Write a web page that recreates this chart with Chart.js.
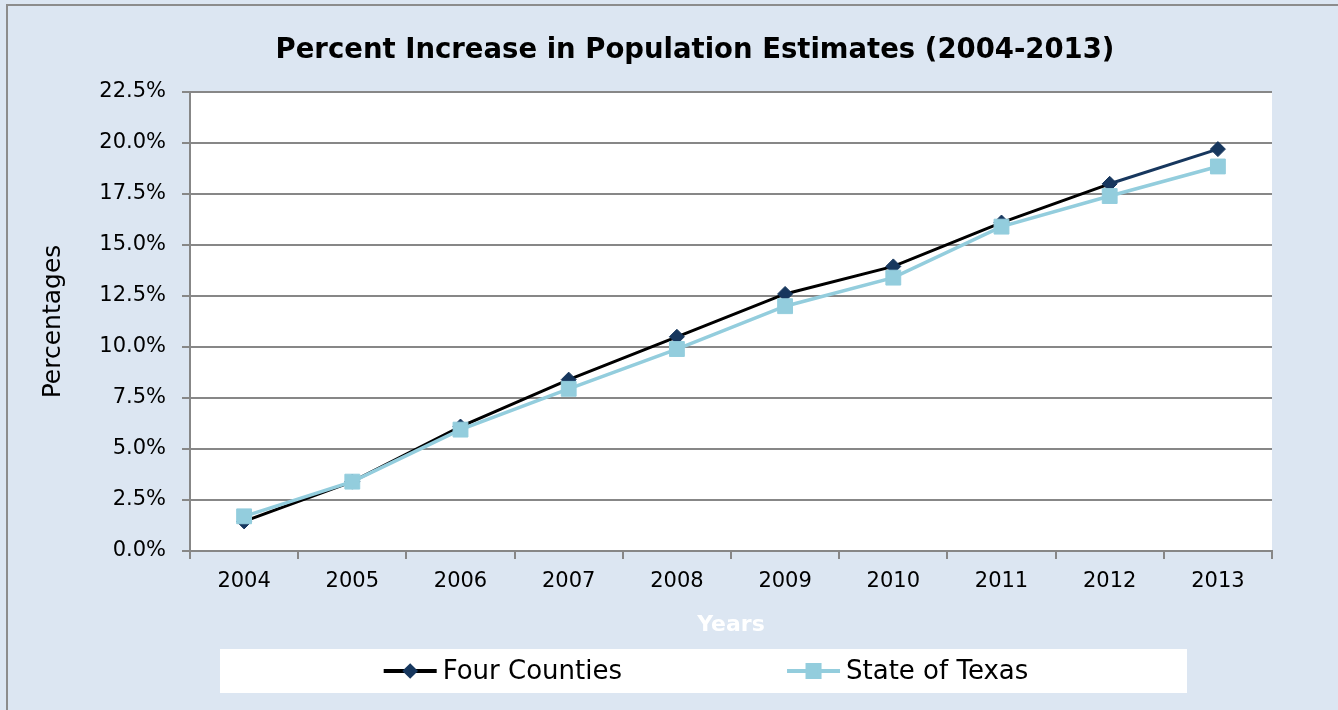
<!DOCTYPE html>
<html>
<head>
<meta charset="utf-8">
<script src="https://cdn.jsdelivr.net/npm/chart.js@4.4.0/dist/chart.umd.min.js"></script>
<style>
  html, body { margin: 0; padding: 0; background: #dce6f2; }
</style>
</head>
<body>
<canvas id="popChart" width="1338" height="710"></canvas>
<script>
const years = ["2004", "2005", "2006", "2007", "2008", "2009", "2010", "2011", "2012", "2013"]
const fourCounties = [1.45, 3.4, 6.1, 8.4, 10.5, 12.6, 13.95, 16.1, 18.0, 19.7]
const stateOfTexas = [1.7, 3.4, 5.95, 7.95, 9.9, 12.0, 13.4, 15.9, 17.4, 18.85]
const yMin = 0
const yMax = 22.5
const yStep = 2.5

const FONT = "'DejaVu Sans', Verdana, sans-serif"
const GRID = "#878787"
const NAVY = "#17375e"

// background, white plot area, title nudge and the boxed legend at the bottom
const frame = {
  id: "frame",
  afterLayout(chart) {
    const t = chart.titleBlock
    t.left += 59
    t.right += 59
  },
  beforeDraw(chart) {
    const { ctx, width, height, chartArea: a } = chart
    ctx.save()
    ctx.fillStyle = "#dce6f2"
    ctx.fillRect(0, 0, width, height)
    ctx.strokeStyle = "#8c8c8c"
    ctx.lineWidth = 2
    ctx.strokeRect(7, 5, width, height)
    ctx.fillStyle = "#ffffff"
    ctx.fillRect(a.left, a.top, a.right - a.left, a.bottom - a.top)
    ctx.restore()
  },
  afterDraw(chart) {
    const { ctx } = chart
    const top = chart.scales.x.bottom + 4
    const h = 44
    ctx.save()
    ctx.fillStyle = "#ffffff"
    ctx.fillRect(220, top, 967, h)
    ctx.font = "26px " + FONT
    ctx.textBaseline = "middle"
    const sets = chart.data.datasets
    const lineW = 53
    const gap = 6
    const itemGap = 165
    const widths = sets.map(d => lineW + gap + ctx.measureText(d.label).width)
    const total = widths.reduce((s, w) => s + w, 0) + itemGap * (sets.length - 1)
    let x = 706 - total / 2
    const cy = top + h / 2
    sets.forEach((d, i) => {
      ctx.strokeStyle = d.borderColor
      ctx.lineWidth = 4
      ctx.beginPath()
      ctx.moveTo(x, cy)
      ctx.lineTo(x + lineW, cy)
      ctx.stroke()
      ctx.fillStyle = d.pointBackgroundColor
      ctx.strokeStyle = d.pointBorderColor
      Chart.helpers.drawPoint(ctx, {
        pointStyle: d.pointStyle,
        radius: d.legendRadius,
        borderWidth: 1,
        rotation: 0
      }, x + lineW / 2, cy)
      ctx.fillStyle = "#000"
      ctx.fillText(d.label, x + lineW + gap, cy + 1)
      x += widths[i] + itemGap
    })
    ctx.restore()
  }
}

new Chart(document.getElementById("popChart"), {
  type: "line",
  data: {
    labels: years,
    datasets: [
      {
        label: "Four Counties",
        data: fourCounties,
        borderColor: "#000000",
        borderWidth: 3,
        segment: { borderColor: ctx => (ctx.p0DataIndex >= 8 ? NAVY : undefined) },
        pointStyle: "rectRot",
        pointRadius: 7.5,
        legendRadius: 5,
        pointBackgroundColor: NAVY,
        pointBorderColor: NAVY,
        pointBorderWidth: 1,
        order: 2
      },
      {
        label: "State of Texas",
        data: stateOfTexas,
        borderColor: "#93cddd",
        borderWidth: 3.5,
        pointStyle: "rect",
        pointRadius: 10.5,
        legendRadius: 8.5,
        pointBackgroundColor: "#93cddd",
        pointBorderColor: "#93cddd",
        pointBorderWidth: 1,
        order: 1
      }
    ]
  },
  options: {
    responsive: false,
    animation: false,
    layout: { padding: { left: 0, right: 66, top: 0, bottom: 65 } },
    scales: {
      x: {
        offset: true,
        border: { color: GRID, width: 2 },
        grid: { offset: true, drawOnChartArea: false, color: GRID, lineWidth: 2, tickLength: 8 },
        ticks: { color: "#000", padding: 10, maxRotation: 0, font: { family: FONT, size: 21 } },
        title: {
          display: true,
          text: "Years",
          color: "#ffffff",
          padding: { top: 8, bottom: 7 },
          font: { family: FONT, size: 22, weight: "bold" }
        },
        afterFit(scale) { scale.height = 94 }
      },
      y: {
        min: yMin,
        max: yMax,
        border: { color: GRID, width: 2 },
        grid: { color: GRID, lineWidth: 2, tickLength: 8 },
        ticks: {
          stepSize: yStep,
          color: "#000",
          padding: 16,
          font: { family: FONT, size: 21 },
          callback: v => v.toFixed(1) + "%"
        },
        title: {
          display: true,
          text: "Percentages",
          color: "#000",
          padding: { top: 38, bottom: 0 },
          font: { family: FONT, size: 25 }
        },
        afterFit(scale) { scale.width = 190 }
      }
    },
    plugins: {
      legend: { display: false },
      tooltip: { enabled: false },
      title: {
        display: true,
        text: "Percent Increase in Population Estimates (2004-2013)",
        color: "#000",
        padding: { top: 34, bottom: 25 },
        font: { family: FONT, size: 27.5, weight: "bold" }
      }
    }
  },
  plugins: [frame]
})
</script>
</body>
</html>
